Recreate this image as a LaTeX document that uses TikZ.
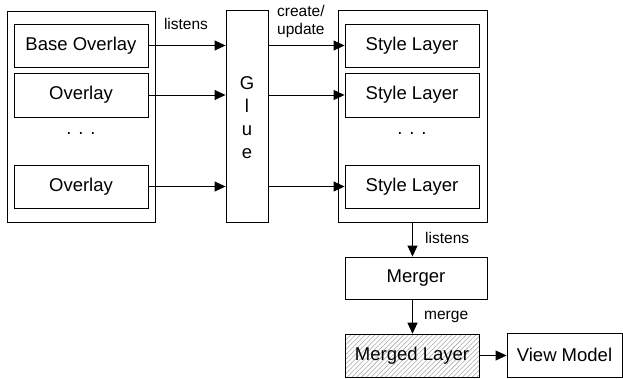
\documentclass[tikz,border=0pt]{standalone}
\usepackage{fontspec}
\setmainfont{Liberation Sans}
\usetikzlibrary{arrows.meta,patterns.meta}
\tikzset{
  box/.style={draw, line width=0.9pt, rectangle, inner sep=0pt,
    font=\fontsize{18.5}{22}\selectfont},
  frame/.style={draw, line width=0.9pt, rectangle, inner sep=0pt},
  arr/.style={line width=0.9pt, -{Triangle[length=11pt,width=10pt]}},
  lbl/.style={font=\fontsize{15.5}{18}\selectfont, inner sep=0pt},
  dots/.style={font=\fontsize{18.5}{22}\selectfont, inner sep=0pt},
  hatch/.style={pattern={Lines[angle=45,distance=3.4pt,line width=0.55pt]},
    pattern color=black!35}
}
\begin{document}
\begin{tikzpicture}[x=1pt,y=-1pt]
\useasboundingbox (0,0) rectangle (623,378);

% overlay stack
\node[frame, minimum width=148pt, minimum height=211pt] (left) at (81,116.5) {};
\node[box, minimum width=134pt, minimum height=43pt] (base) at (81,45.5) {Base Overlay};
\node[box, minimum width=134pt, minimum height=44pt] (ov1) at (81,95) {Overlay};
\node[dots] (ldots) at (81,134) {. . .};
\node[box, minimum width=134pt, minimum height=43pt] (ov2) at (81,186.5) {Overlay};

% glue
\node[frame, minimum width=42pt, minimum height=212pt] (glue) at (247,116) {};
\node[inner sep=0pt, align=center, font=\fontsize{18.5}{23}\selectfont]
  (gluetxt) at (247,117.5) {G\\l\\u\\e};

% style layer stack
\node[frame, minimum width=149pt, minimum height=212pt] (right) at (412.5,116) {};
\node[box, minimum width=134pt, minimum height=43pt] (sl1) at (412,45.5) {Style Layer};
\node[box, minimum width=134pt, minimum height=44pt] (sl2) at (412,95) {Style Layer};
\node[dots] (rdots) at (412,134) {. . .};
\node[box, minimum width=134pt, minimum height=43pt] (sl3) at (412,186.5) {Style Layer};

% merging
\node[box, minimum width=142pt, minimum height=42pt] (merger) at (416,278) {Merger};
\node[box, hatch, minimum width=134pt, minimum height=43pt] (merged) at (412,355.5) {Merged Layer};
\node[box, minimum width=115pt, minimum height=44pt] (view) at (564.5,355) {View Model};

% connectors
\draw[arr] (base.east) -- (base.east -| glue.west);
\draw[arr] (ov1.east) -- (ov1.east -| glue.west);
\draw[arr] (ov2.east) -- (ov2.east -| glue.west);
\draw[arr] (sl1.west -| glue.east) -- (sl1.west);
\draw[arr] (sl2.west -| glue.east) -- (sl2.west);
\draw[arr] (sl3.west -| glue.east) -- (sl3.west);
\draw[arr] (right.south) -- (right.south |- merger.north);
\draw[arr] (merger.south -| right.south) -- (right.south |- merged.north);
\draw[arr] (merged.east) -- (merged.east -| view.west);

% labels
\node[lbl] (l1) at (186,24) {listens};
\node[lbl, align=left, anchor=west] (l2) at (277,21) {create/\\update};
\node[lbl, anchor=west] (l3) at (425,238) {listens};
\node[lbl, anchor=west] (l4) at (424,317) {merge};
\end{tikzpicture}
\end{document}
